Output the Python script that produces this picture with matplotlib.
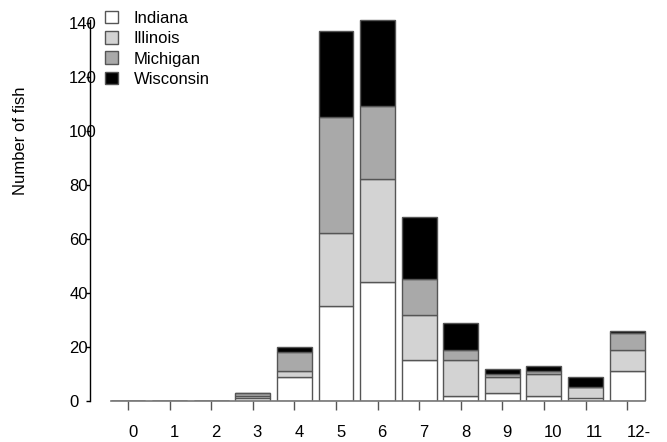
import numpy as np
import matplotlib
matplotlib.use("Agg")
import matplotlib.pyplot as plt
from matplotlib.patches import Patch

plt.rcParams['font.family'] = ['Liberation Sans', 'DejaVu Sans']

# ------------ data ------------
ages = ["0", "1", "2", "3", "4", "5", "6", "7", "8", "9", "10", "11", "12-"]
indiana   = [0, 0, 0, 1, 9, 35, 44, 15, 2, 3, 2, 1, 11]
illinois  = [0, 0, 0, 1, 2, 27, 38, 17, 13, 6, 8, 4, 8]
michigan  = [0, 0, 0, 1, 7, 43, 27, 13, 4, 1, 1, 0, 6]
wisconsin = [0, 0, 0, 0, 2, 32, 32, 23, 10, 2, 2, 4, 1]

states = ["Indiana", "Illinois", "Michigan", "Wisconsin"]
colors = ["white", "#d3d3d3", "#a9a9a9", "black"]
# ------------------------------

W, H = 667, 442
fig = plt.figure(figsize=(W / 100, H / 100), dpi=100)
# axes box in pixels: left 90, right 660, bottom y=401, top y=1
ax = fig.add_axes([90 / W, (H - 401) / H, (660 - 90) / W, 400 / H])

x = np.arange(len(ages))
bottom = np.zeros(len(ages))
for vals, col in zip([indiana, illinois, michigan, wisconsin], colors):
    ax.bar(x, vals, width=0.84, bottom=bottom, color=col,
           edgecolor="#555555", linewidth=1.0)
    bottom += np.array(vals)

ax.set_xlim(-0.914, 12.79)
ax.set_ylim(0, 148)

for s in ["top", "right"]:
    ax.spines[s].set_visible(False)
ax.spines["left"].set_bounds(0, 141)
ax.spines["left"].set_linewidth(1.0)
ax.spines["bottom"].set_bounds(-0.42, 12.42)
ax.spines["bottom"].set_color("#777777")
ax.spines["bottom"].set_linewidth(1.2)

ax.set_yticks(np.arange(0, 141, 20))
ax.tick_params(axis="y", direction="out", length=3, width=1.0,
               pad=12, labelsize=12)
for lab in ax.get_yticklabels():
    lab.set_ha("left")

ax.set_xticks(x)
ax.set_xticklabels(ages)
ax.tick_params(axis="x", direction="out", length=6.5, width=1.0,
               color="#555555", pad=11, labelsize=12)
for lab in ax.get_xticklabels():
    lab.set_ha("left")

fig.text(21 / W, 1 - 141 / H, "Number of fish", rotation=90,
         ha="center", va="center", fontsize=12)

handles = [Patch(facecolor=c, edgecolor="#555555", linewidth=1.0) for c in colors]
fig.legend(handles, states, loc="upper left",
           bbox_to_anchor=(93 / W, 1 + 1 / H), frameon=False,
           fontsize=12, handlelength=0.78, handleheight=0.78,
           handletextpad=0.95, labelspacing=0.32, borderpad=0.2)

fig.savefig("out.png", dpi=100)
